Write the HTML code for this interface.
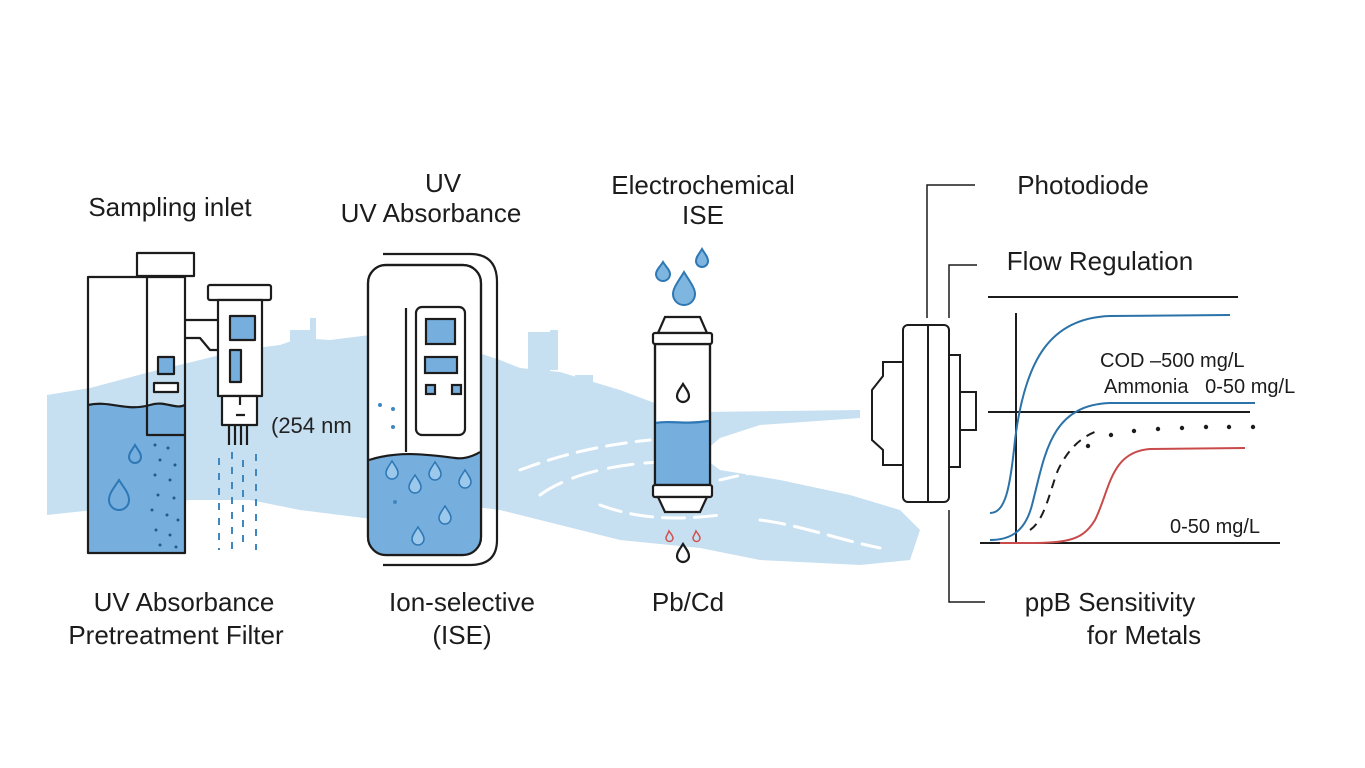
<!DOCTYPE html>
<html><head><meta charset="utf-8"><style>
html,body{margin:0;padding:0;background:#fff;}
svg{display:block;font-family:"Liberation Sans","DejaVu Sans",sans-serif;}
</style></head><body>
<svg width="1365" height="768" viewBox="0 0 1365 768" xmlns="http://www.w3.org/2000/svg">
<defs>
<path id="drop" d="M0,-9 C3,-4 6,-1 6,3 A6,6 0 0 1 -6,3 C-6,-1 -3,-4 0,-9Z"/>
</defs>
<!-- landscape -->
<g fill="#c6e0f1">
<path d="M47,395 L90,388 L120,380 L150,372 L200,360 L240,350 L280,345 L300,338 L330,340 L370,335 L420,345 L470,350 L500,360 L520,368 L560,372 L620,390 L660,405 L700,412 L860,410 L860,418 L760,425 L720,438 L700,455 L720,470 L780,480 L850,495 L900,510 L920,530 L910,560 L860,565 L760,560 L700,548 L620,540 L560,525 L500,510 L460,505 L380,520 L300,510 L250,500 L190,500 L140,505 L47,515 Z"/>
<rect x="310" y="318" width="6" height="30"/><rect x="290" y="330" width="22" height="18"/>
<rect x="528" y="332" width="22" height="40"/><rect x="550" y="330" width="8" height="40"/><rect x="575" y="375" width="18" height="20"/>
</g>
<g fill="none" stroke="#fff" stroke-width="3" stroke-linecap="round">
<path d="M520,470 C560,455 600,445 650,440" stroke-dasharray="20 10"/>
<path d="M540,495 C560,480 600,465 660,462" stroke-dasharray="25 12"/>
<path d="M600,505 C640,520 680,520 720,515" stroke-dasharray="22 10"/>
<path d="M740,440 C780,430 820,425 860,430" stroke-dasharray="20 10"/>
<path d="M760,520 C800,525 840,540 880,548" stroke-dasharray="25 10"/>
<path d="M720,480 C760,470 800,465 840,455" stroke-dasharray="18 10"/>
</g>
<g fill="none" stroke="#1c1c1c" stroke-width="2.2" stroke-linejoin="round">
<!-- left tank -->
<path d="M88,405 C110,400 125,412 150,405 C165,400 175,410 185,405 L185,553 L88,553 Z" fill="#76aede" stroke="none"/>
<rect x="88" y="277" width="97" height="276"/>
<path d="M88,405 C110,400 125,412 150,405 C165,400 175,410 185,405"/>
<rect x="137" y="253" width="57" height="23" fill="#fff"/>
<path d="M147,277 L147,435 L185,435"/>
<rect x="158" y="357" width="16" height="17" fill="#76aede"/>
<rect x="154" y="383" width="24" height="9" fill="#fff"/>
<path d="M185,320 L218,320 M185,338 L200,338 L210,350 L218,350"/>
<!-- probe -->
<rect x="208" y="285" width="63" height="15" rx="2" fill="#fff"/>
<rect x="218" y="300" width="44" height="96" fill="#fff"/>
<rect x="230" y="316" width="25" height="24" fill="#76aede"/>
<rect x="230" y="350" width="11" height="32" fill="#76aede"/>
<rect x="222" y="396" width="35" height="29" fill="#fff"/>
<path d="M240,396 L240,405 M236,415 L245,415 M229,425 L229,445 M235,425 L235,445 M241,425 L241,445 M247,425 L247,445"/>
</g>
<g stroke="#3e88bf" stroke-width="2" stroke-dasharray="7 8">
<path d="M219,458 V550 M232,452 V550 M243,460 V550 M256,454 V550"/>
</g>
<g fill="#1d5d8a">
<circle cx="155" cy="445" r="1.5"/><circle cx="168" cy="448" r="1.5"/><circle cx="160" cy="460" r="1.5"/><circle cx="175" cy="465" r="1.5"/><circle cx="155" cy="475" r="1.5"/><circle cx="170" cy="480" r="1.5"/><circle cx="158" cy="495" r="1.5"/><circle cx="174" cy="498" r="1.5"/><circle cx="152" cy="510" r="1.5"/><circle cx="167" cy="515" r="1.5"/><circle cx="178" cy="520" r="1.5"/><circle cx="156" cy="530" r="1.5"/><circle cx="170" cy="535" r="1.5"/><circle cx="160" cy="545" r="1.5"/><circle cx="176" cy="547" r="1.5"/>
</g>
<g fill="none" stroke="#2e78b5" stroke-width="2">
<use href="#drop" x="135" y="454"/>
<path d="M119,480 C124,488 129,493 129,500 A10,10 0 0 1 109,500 C109,493 114,488 119,480Z"/>
</g>
<text x="271" y="433" font-size="22" fill="#222">(254 nm</text>
<!-- ISE device -->
<g fill="none" stroke="#1c1c1c" stroke-width="2.2">
<path d="M383,254 L470,254 Q497,254 497,282 L497,540 Q497,565 470,565 L383,565"/>
<rect x="368" y="265" width="113" height="290" rx="18" fill="#fff"/>
<path d="M369,460 C400,450 430,455 455,458 C468,460 475,455 480,452 L480,537 Q480,554 462,554 L386,554 Q369,554 369,537Z" fill="#76aede" stroke="none"/>
<rect x="368" y="265" width="113" height="290" rx="18"/>
<path d="M369,460 C400,450 430,455 455,458 C468,460 480,452 480,452"/>
<path d="M406,308 L406,452"/>
<rect x="416" y="307" width="49" height="128" rx="6"/>
<rect x="426" y="319" width="29" height="25" fill="#76aede"/>
<rect x="425" y="357" width="32" height="16" fill="#76aede"/>
<rect x="426" y="385" width="9" height="9" fill="#76aede"/>
<rect x="452" y="385" width="9" height="9" fill="#76aede"/>
</g>
<g fill="#3e88bf"><circle cx="380" cy="405" r="2"/><circle cx="393" cy="409" r="2"/><circle cx="393" cy="427" r="2"/><circle cx="395" cy="502" r="2"/></g>
<g fill="#9cc8ec" stroke="#2e78b5" stroke-width="1.5">
<use href="#drop" x="392" y="470"/><use href="#drop" x="435" y="471"/><use href="#drop" x="415" y="484"/><use href="#drop" x="465" y="479"/><use href="#drop" x="445" y="515"/><use href="#drop" x="418" y="536"/>
</g>
<!-- filter cartridge -->
<g fill="#7fb6e0" stroke="#2e78b5" stroke-width="2">
<path d="M663,262 C666,267 670,270 670,274 A7,7 0 0 1 656,274 C656,270 660,267 663,262Z"/>
<use href="#drop" x="702" y="258"/>
<path d="M684,272 C690,282 695,288 695,294 A11,11 0 0 1 673,294 C673,288 678,282 684,272Z"/>
</g>
<g fill="none" stroke="#1c1c1c" stroke-width="2.2">
<rect x="655" y="344" width="55" height="141" fill="#fff"/>
<path d="M656,423 C670,420 680,425 709,421 L709,485 L656,485Z" fill="#76aede" stroke="none"/>
<rect x="655" y="344" width="55" height="141"/>
<path d="M656,423 C670,420 680,425 709,421" stroke="#2e78b5"/>
<path d="M665,317 L700,317 L707,333 L658,333Z" fill="#fff"/>
<rect x="653" y="333" width="59" height="11" rx="2" fill="#fff"/>
<rect x="653" y="485" width="59" height="12" rx="2" fill="#fff"/>
<path d="M658,497 L707,497 L700,512 L665,512Z" fill="#fff"/>
<path d="M683,384 C686,389 689,392 689,396 A6,6 0 0 1 677,396 C677,392 680,389 683,384Z"/>
<path d="M683,544 C686,549 689,552 689,556 A6,6 0 0 1 677,556 C677,552 680,549 683,544Z"/>
</g>
<g fill="none" stroke="#d05050" stroke-width="1.5">
<path d="M669,531 C671,534 673,536 673,538 A3,3 0 0 1 666,538 C666,536 668,534 669,531Z"/>
<path d="M696,531 C698,534 700,536 700,538 A3,3 0 0 1 693,538 C693,536 695,534 696,531Z"/>
</g>
<!-- photodiode -->
<g fill="#fff" stroke="#1c1c1c" stroke-width="2">
<path d="M872,390 L883,376 L883,362 L903,362 L903,465 L883,465 L883,450 L872,440Z"/>
<rect x="949" y="355" width="11" height="112"/>
<rect x="960" y="392" width="16" height="38"/>
<rect x="903" y="325" width="46" height="177" rx="5"/>
<path d="M928,325 V502" fill="none"/>
</g>
<g fill="none" stroke="#1c1c1c" stroke-width="1.5">
<path d="M927,318 V185 H975"/>
<path d="M949,318 V265 H977"/>
<path d="M949,510 V602 H985"/>
</g>
<!-- chart -->
<g fill="none" stroke-width="2">
<path d="M988,297 H1238 M1016,313 V543 M988,412 H1250 M980,543 H1280" stroke="#1c1c1c"/>
<path d="M990,513 C1005,513 1010,490 1015,440 C1025,360 1050,318 1110,316 L1230,315" stroke="#2a72a8"/>
<path d="M990,540 C1010,540 1025,532 1032,505 C1045,455 1050,405 1110,403 L1255,403" stroke="#2a72a8"/>
<path d="M1030,530 C1045,520 1050,490 1058,470 C1070,445 1085,435 1100,430" stroke="#1c1c1c" stroke-dasharray="9 7"/>
<path d="M1000,543 C1060,543 1080,545 1095,520 C1110,490 1110,452 1150,449 L1245,448" stroke="#c84a4a"/>
</g>
<g fill="#1c1c1c"><circle cx="1088" cy="446" r="2.2"/><circle cx="1111" cy="435" r="2.2"/><circle cx="1134" cy="431" r="2.2"/><circle cx="1158" cy="429" r="2.2"/><circle cx="1182" cy="428" r="2.2"/><circle cx="1206" cy="427" r="2.2"/><circle cx="1229" cy="427" r="2.2"/><circle cx="1253" cy="427" r="2.2"/></g>
<g font-size="20" fill="#1c1c1c">
<text x="1100" y="367">COD –500 mg/L</text>
<text x="1104" y="393" xml:space="preserve">Ammonia   0-50 mg/L</text>
<text x="1170" y="533">0-50 mg/L</text>
</g>
<!-- titles -->
<g font-size="26" fill="#1c1c1c" text-anchor="middle">
<text x="170" y="216">Sampling inlet</text>
<text x="443" y="192">UV</text>
<text x="431" y="222">UV Absorbance</text>
<text x="703" y="194">Electrochemical</text>
<text x="703" y="224">ISE</text>
<text x="1083" y="194">Photodiode</text>
<text x="1100" y="270">Flow Regulation</text>
<text x="184" y="611">UV Absorbance</text>
<text x="176" y="644">Pretreatment Filter</text>
<text x="462" y="611">Ion-selective</text>
<text x="462" y="644">(ISE)</text>
<text x="688" y="611">Pb/Cd</text>
<text x="1110" y="611">ppB Sensitivity</text>
<text x="1144" y="644">for Metals</text>
</g>
</svg>
</body></html>
